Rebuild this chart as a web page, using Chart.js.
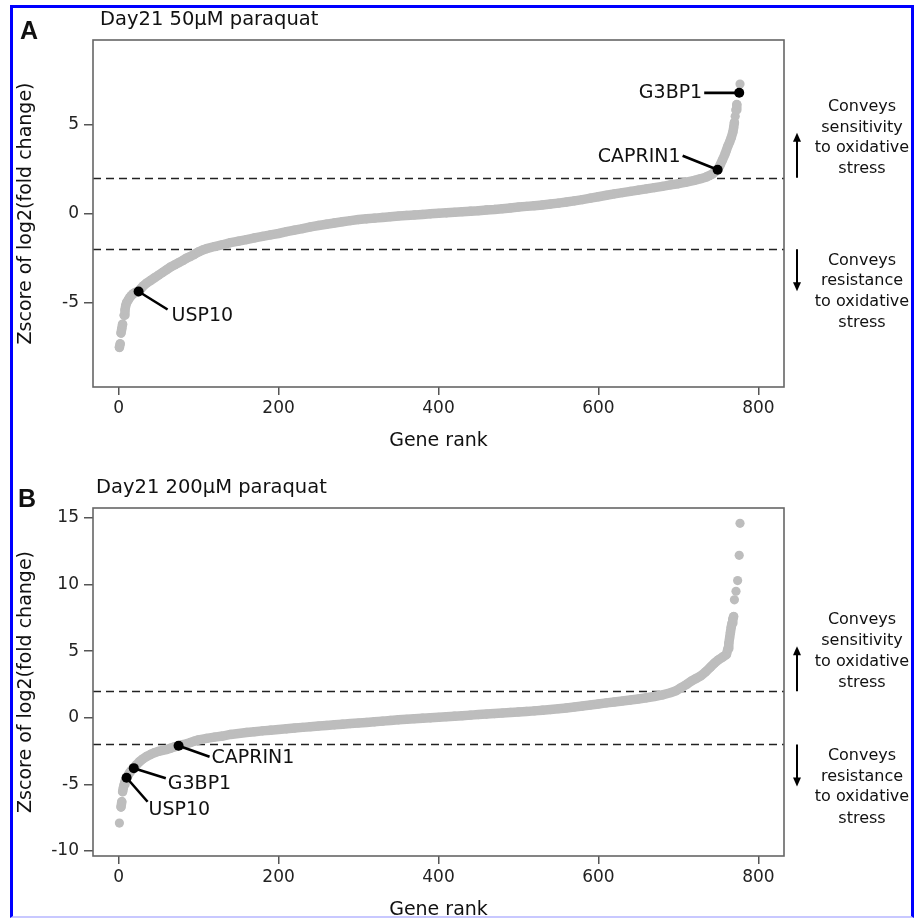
<!DOCTYPE html>
<html><head><meta charset="utf-8">
<script src="https://cdn.jsdelivr.net/npm/chart.js@4.4.1/dist/chart.umd.min.js"></script>
<style>
html,body{margin:0;padding:0;background:#fff;overflow:hidden;width:915px;height:919px;}
#wa{position:absolute;left:0;top:0;width:915px;height:470px;}
#wb{position:absolute;left:0;top:455px;width:915px;height:470px;}
#frame{position:absolute;left:10px;top:5px;width:898px;height:908px;border:3px solid #0000ff;border-bottom:2px solid #c8c8ff;pointer-events:none;}
</style></head><body>
<div id="wa"><canvas id="ca"></canvas></div>
<div id="wb"><canvas id="cb"></canvas></div>
<div id="frame"></div>
<script>
// ---------- DATA ----------
const xTicks = [0, 200, 400, 600, 800];
const yTicksA = [-5, 0, 5];
const yTicksB = [-10, -5, 0, 5, 10, 15];
const thresholds = [2, -2];

const titleA = 'Day21 50µM paraquat';
const titleB = 'Day21 200µM paraquat';

const rankA = [1,2,3,4,5,7,8,9,10,12,14,16,18,20,22,25,28,31,35,40,45,50,55,60,65,70,75,80,85,90,95,100,105,110,120,130,140,150,160,170,180,190,200,210,220,230,240,250,260,270,280,290,300,310,320,330,340,350,360,370,380,390,400,410,420,430,440,450,460,470,480,490,500,510,520,530,540,550,560,570,580,590,600,610,620,630,640,650,660,670,680,690,700,710,720,728,735,742,749,752,755,758,760,762,764,766,768,769,770,771,772,773,776,777];
const zA = [-7.5,-7.3,-6.7,-6.45,-6.2,-5.7,-5.4,-5.15,-5.0,-4.85,-4.7,-4.6,-4.5,-4.45,-4.4,-4.37,-4.2,-4.05,-3.9,-3.75,-3.6,-3.45,-3.3,-3.15,-3.0,-2.88,-2.76,-2.64,-2.5,-2.4,-2.28,-2.15,-2.05,-1.97,-1.85,-1.75,-1.63,-1.55,-1.46,-1.37,-1.28,-1.2,-1.12,-1.02,-0.93,-0.85,-0.75,-0.67,-0.6,-0.53,-0.46,-0.4,-0.34,-0.3,-0.26,-0.22,-0.18,-0.14,-0.11,-0.08,-0.05,-0.02,0.01,0.04,0.07,0.1,0.13,0.16,0.2,0.23,0.27,0.31,0.36,0.4,0.44,0.48,0.53,0.58,0.64,0.71,0.78,0.86,0.94,1.02,1.1,1.17,1.24,1.31,1.38,1.45,1.52,1.6,1.67,1.76,1.86,1.95,2.05,2.2,2.45,2.7,3.0,3.3,3.55,3.8,4.0,4.25,4.55,4.8,5.1,5.45,5.8,6.1,6.76,7.25];

const rankB = [1,3,4,5,6,7,8,9,10,12,14,16,19,22,26,30,35,40,45,50,55,60,65,70,75,80,85,90,95,100,110,120,130,140,150,160,170,180,190,200,210,220,230,240,250,260,270,280,290,300,310,320,330,340,350,360,370,380,390,400,410,420,430,440,450,460,470,480,490,500,510,520,530,540,550,560,570,580,590,600,610,620,630,640,650,660,670,680,690,697,703,710,716,722,728,734,740,745,750,755,760,762,763,764,765,766,767,768,769,770,772,774,776,777];
const zB = [-7.9,-6.7,-6.3,-5.55,-5.25,-5.0,-4.8,-4.62,-4.5,-4.3,-4.1,-3.95,-3.78,-3.55,-3.3,-3.1,-2.9,-2.75,-2.62,-2.52,-2.44,-2.38,-2.28,-2.18,-2.1,-2.02,-1.95,-1.85,-1.75,-1.66,-1.55,-1.45,-1.37,-1.25,-1.18,-1.1,-1.04,-0.98,-0.93,-0.88,-0.83,-0.77,-0.72,-0.67,-0.62,-0.57,-0.53,-0.48,-0.43,-0.39,-0.35,-0.3,-0.25,-0.2,-0.15,-0.11,-0.07,-0.03,0.0,0.04,0.08,0.12,0.16,0.2,0.24,0.28,0.32,0.36,0.4,0.44,0.48,0.52,0.57,0.62,0.68,0.74,0.81,0.88,0.96,1.04,1.12,1.19,1.26,1.33,1.41,1.5,1.6,1.72,1.88,2.03,2.25,2.5,2.75,2.95,3.15,3.45,3.8,4.1,4.35,4.55,4.75,5.2,5.6,6.0,6.4,6.8,7.1,7.4,7.6,8.86,9.5,10.3,12.2,14.6];

const genesA = ['USP10', 'CAPRIN1', 'G3BP1'];
const geneRankA = [25, 749, 776];
const geneZA = [-4.37, 2.45, 6.76];

const genesB = ['CAPRIN1', 'G3BP1', 'USP10'];
const geneRankB = [75, 19, 10];
const geneZB = [-2.1, -3.78, -4.5];

const sensText = ['Conveys', 'sensitivity', 'to oxidative', 'stress'];
const resText = ['Conveys', 'resistance', 'to oxidative', 'stress'];

// ---------- STYLE (label leader offsets in px: line end dx,dy ; text dx,dy ; align) ----------
const labelStyleA = [
  {lx:29, ly:18, tx:33, ty:25, align:'left'},
  {lx:-35, ly:-14, tx:-37, ty:-12.5, align:'right'},
  {lx:-35, ly:0, tx:-37, ty:0, align:'right'}
];
const labelStyleB = [
  {lx:31, ly:11, tx:33, ty:12, align:'left'},
  {lx:32, ly:10, tx:34, ty:16, align:'left'},
  {lx:21, ly:24, tx:22, ty:32, align:'left'}
];

const FONT = "'DejaVu Sans', Verdana, sans-serif";
const DOT = '#bdbdbd';

function makePlugin(cfg) {
  return {
    id: 'decor',
    beforeDatasetsDraw(chart) {
      const {ctx, chartArea: a, scales: {y}} = chart;
      ctx.save();
      ctx.strokeStyle = '#222';
      ctx.lineWidth = 1.6;
      ctx.setLineDash([8, 5]);
      thresholds.forEach(t => {
        const py = Math.round(y.getPixelForValue(t)) + 0.5;
        ctx.beginPath(); ctx.moveTo(a.left, py); ctx.lineTo(a.right, py); ctx.stroke();
      });
      ctx.restore();
    },
    afterDraw(chart) {
      const {ctx, chartArea: a, scales: {x, y}} = chart;
      ctx.save();
      ctx.strokeStyle = '#666'; ctx.lineWidth = 1.6;
      ctx.strokeRect(a.left, a.top, a.right - a.left, a.bottom - a.top);
      ctx.fillStyle = '#111'; ctx.strokeStyle = '#000'; ctx.lineWidth = 2.6;
      ctx.font = '19px ' + FONT; ctx.textBaseline = 'middle';
      cfg.genes.forEach((g, i) => {
        const px = x.getPixelForValue(cfg.geneRank[i]);
        const py = y.getPixelForValue(cfg.geneZ[i]);
        const s = cfg.labelStyle[i];
        ctx.beginPath(); ctx.moveTo(px, py); ctx.lineTo(px + s.lx, py + s.ly); ctx.stroke();
        ctx.textAlign = s.align;
        ctx.fillText(g, px + s.tx, py + s.ty);
      });
      ctx.textAlign = 'left';
      ctx.fillStyle = '#111';
      ctx.font = '19.5px ' + FONT;
      ctx.fillText(cfg.title, cfg.titleX, a.top - 20);
      ctx.font = 'bold 25px "Liberation Sans", Arial, sans-serif';
      ctx.fillText(cfg.letter, cfg.letterX, a.top - 8);
      const ax = 797, cx = 862;
      const yUp = y.getPixelForValue(2), yDn = y.getPixelForValue(-2);
      ctx.strokeStyle = '#000'; ctx.fillStyle = '#000'; ctx.lineWidth = 2;
      ctx.beginPath(); ctx.moveTo(ax, yUp); ctx.lineTo(ax, yUp - 38); ctx.stroke();
      ctx.beginPath(); ctx.moveTo(ax, yUp - 45); ctx.lineTo(ax - 4, yUp - 36); ctx.lineTo(ax + 4, yUp - 36); ctx.closePath(); ctx.fill();
      ctx.beginPath(); ctx.moveTo(ax, yDn); ctx.lineTo(ax, yDn + 35); ctx.stroke();
      ctx.beginPath(); ctx.moveTo(ax, yDn + 42); ctx.lineTo(ax - 4, yDn + 33); ctx.lineTo(ax + 4, yDn + 33); ctx.closePath(); ctx.fill();
      ctx.font = '16px ' + FONT; ctx.textAlign = 'center'; ctx.fillStyle = '#111';
      const upOff = [-71, -50, -29.5, -8.5];
      sensText.forEach((t, i) => ctx.fillText(t, cx, yUp + upOff[i]));
      const dnOff = [11.5, 32, 52.5, 74];
      resText.forEach((t, i) => ctx.fillText(t, cx, yDn + dnOff[i]));
      ctx.restore();
    }
  };
}

function makeChart(id, ranks, zs, yMin, yMax, yTicks, padTop, xAxisH, xTitlePad, cfg) {
  return new Chart(document.getElementById(id), {
    type: 'scatter',
    data: {
      datasets: [
        {data: ranks.map((r, i) => ({x: r, y: zs[i]})), pointRadius: 4.6, pointHoverRadius: 4.6,
         backgroundColor: DOT, order: 2,
         showLine: true, borderColor: DOT, borderWidth: 9.5, borderCapStyle: 'round', borderJoinStyle: 'round',
         pointBorderWidth: 0,
         segment: {borderColor: c => Math.abs(c.p1.y - c.p0.y) > 6 ? 'rgba(0,0,0,0)' : DOT}},
        {data: cfg.geneRank.map((r, i) => ({x: r, y: cfg.geneZ[i]})), pointRadius: 5, pointHoverRadius: 5,
         backgroundColor: '#000', borderWidth: 0, order: 1}
      ]
    },
    options: {
      animation: false, responsive: true, maintainAspectRatio: false,
      events: [],
      layout: {padding: {left: 10, top: padTop, right: 131, bottom: 0}},
      plugins: {legend: {display: false}, tooltip: {enabled: false}},
      scales: {
        x: {
          type: 'linear', min: -32, max: 832,
          afterBuildTicks: s => { s.ticks = xTicks.map(v => ({value: v})); },
          afterFit: s => { s.height = xAxisH; },
          grid: {drawOnChartArea: false, drawTicks: true, tickLength: 8, color: '#555', lineWidth: 1.5},
          border: {display: false},
          ticks: {font: {family: FONT, size: 17}, color: '#222', padding: 3, maxRotation: 0},
          title: {display: true, text: 'Gene rank', font: {family: FONT, size: 19}, color: '#111',
                  padding: {top: 0, bottom: xTitlePad}}
        },
        y: {
          type: 'linear', min: yMin, max: yMax,
          afterBuildTicks: s => { s.ticks = yTicks.map(v => ({value: v})); },
          afterFit: s => { s.width = 83; },
          grid: {drawOnChartArea: false, drawTicks: true, tickLength: 9, color: '#555', lineWidth: 1.5},
          border: {display: false},
          ticks: {font: {family: FONT, size: 17}, color: '#222', padding: 5},
          title: {display: true, text: 'Zscore of log2(fold change)', font: {family: FONT, size: 19}, color: '#111',
                  padding: {top: 4.6, bottom: 0}}
        }
      }
    },
    plugins: [makePlugin(cfg)]
  });
}

makeChart('ca', rankA, zA, -9.72, 9.72, yTicksA, 40, 83, 17.6,
  {genes: genesA, geneRank: geneRankA, geneZ: geneZA, labelStyle: labelStyleA,
   title: titleA, titleX: 100, letter: 'A', letterX: 20});
makeChart('cb', rankB, zB, -10.375, 15.75, yTicksB, 53, 69, 3.6,
  {genes: genesB, geneRank: geneRankB, geneZ: geneZB, labelStyle: labelStyleB,
   title: titleB, titleX: 96, letter: 'B', letterX: 18});
</script>
</body></html>
